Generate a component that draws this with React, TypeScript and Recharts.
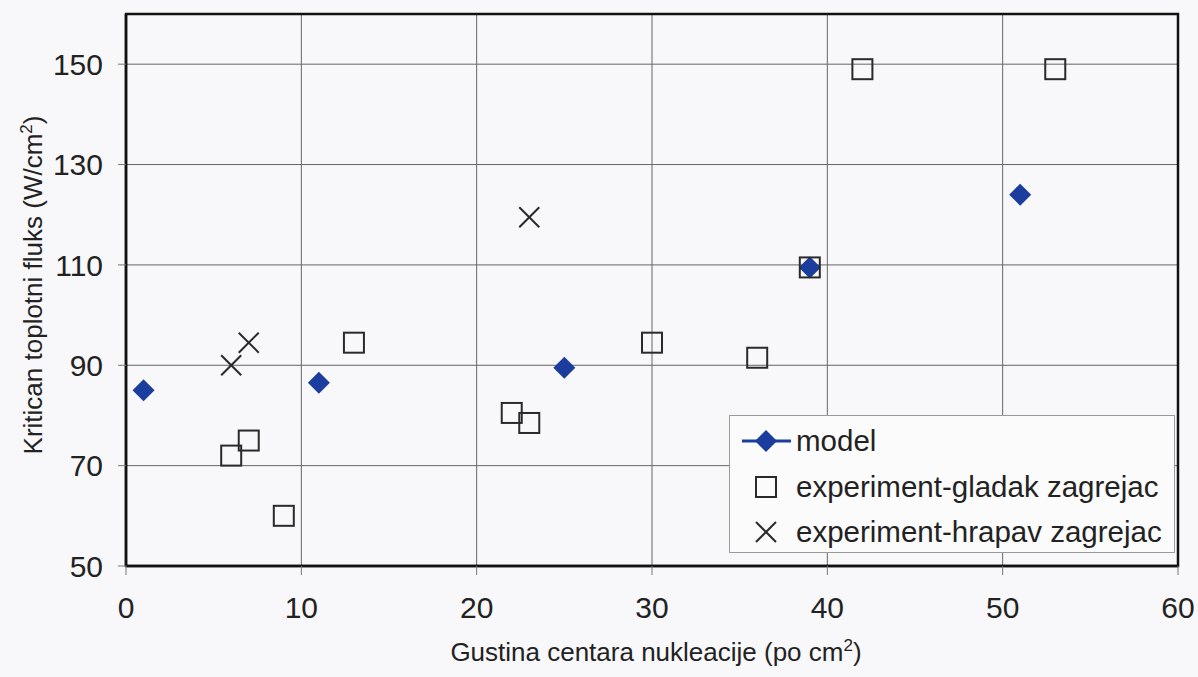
import React from 'react';
import { ScatterChart, Scatter, XAxis, YAxis, CartesianGrid, ReferenceArea } from 'recharts';

const modelX = [1, 11, 25, 39, 51];
const modelY = [85, 86.5, 89.5, 109.5, 124];
const smoothX = [6, 7, 9, 13, 22, 23, 30, 36, 39, 42, 53];
const smoothY = [72, 75, 60, 94.5, 80.5, 78.5, 94.5, 91.5, 109.5, 149, 149];
const roughX = [6, 7, 23];
const roughY = [90, 94.5, 119.5];
const xTicks = [0, 10, 20, 30, 40, 50, 60];
const yTicks = [50, 70, 90, 110, 130, 150];
const seriesNames = ['model', 'experiment-gladak zagrejac', 'experiment-hrapav zagrejac'];

const modelData = modelX.map((x, i) => ({ x, y: modelY[i] }));
const smoothData = smoothX.map((x, i) => ({ x, y: smoothY[i] }));
const roughData = roughX.map((x, i) => ({ x, y: roughY[i] }));

const BLUE = '#1b3d9e';
const INK = '#222';
const FONT = '"Liberation Sans", Arial, sans-serif';

const Diamond = (props: any) => {
  const { cx, cy } = props;
  if (cx == null || cy == null) return null;
  const r = 11;
  return <polygon points={`${cx},${cy - r} ${cx + r},${cy} ${cx},${cy + r} ${cx - r},${cy}`} fill={BLUE} />;
};
const Square = (props: any) => {
  const { cx, cy } = props;
  if (cx == null || cy == null) return null;
  const h = 10;
  return <rect x={cx - h} y={cy - h} width={2 * h} height={2 * h} fill="none" stroke="#2a2a2a" strokeWidth={2} />;
};
const Cross = (props: any) => {
  const { cx, cy } = props;
  if (cx == null || cy == null) return null;
  const h = 10;
  return (
    <g stroke="#2a2a2a" strokeWidth={2}>
      <line x1={cx - h} y1={cy - h} x2={cx + h} y2={cy + h} />
      <line x1={cx - h} y1={cy + h} x2={cx + h} y2={cy - h} />
    </g>
  );
};

const XTitle = (props: any) => {
  const vb = props.viewBox || {};
  const cx = vb.x + vb.width / 2 + 4;
  return (
    <text x={cx} y={661} textAnchor="middle" fontSize={26} fill={INK} fontFamily={FONT}>
      Gustina centara nukleacije (po cm<tspan dy={-10} fontSize={17}>2</tspan><tspan dy={10}>)</tspan>
    </text>
  );
};
const YTitle = (props: any) => {
  const vb = props.viewBox || {};
  const cy = vb.y + vb.height / 2 - 5;
  const x = 42;
  return (
    <text x={x} y={cy} textAnchor="middle" fontSize={26} fill={INK} fontFamily={FONT} transform={`rotate(-90 ${x} ${cy})`}>
      Kritican toplotni fluks (W/cm<tspan dy={-10} fontSize={17}>2</tspan><tspan dy={10}>)</tspan>
    </text>
  );
};

const LegendBox = () => {
  const rows = [25, 71, 116];
  return (
    <div style={{ position: 'absolute', left: 729, top: 415, width: 446, height: 138, background: '#fbfbfb', border: '1px solid #999', boxSizing: 'border-box' }}>
      <svg width={446} height={138} style={{ position: 'absolute', left: 0, top: 0 }}>
        <line x1={12} y1={rows[0]} x2={61} y2={rows[0]} stroke={BLUE} strokeWidth={3} />
        <Diamond cx={36} cy={rows[0]} />
        <Square cx={36} cy={rows[1]} />
        <Cross cx={36} cy={rows[2]} />
        {seriesNames.map((n, i) => (
          <text key={n} x={66} y={rows[i] + 10} fontSize={29.5} fill={INK} fontFamily={FONT}>{n}</text>
        ))}
      </svg>
    </div>
  );
};

export default function App() {
  return (
    <div style={{ position: 'absolute', left: 0, top: 0, width: 1198, height: 677, background: '#f8f8fa', fontFamily: FONT }}>
      <ScatterChart width={1198} height={677} margin={{ top: 14, right: 20, left: 0, bottom: 0 }}>
        <CartesianGrid stroke="#666" strokeWidth={1} />
        <XAxis
          type="number"
          dataKey="x"
          domain={[0, 60]}
          ticks={xTicks}
          height={111}
          tickSize={9}
          tickMargin={22}
          tick={{ fontSize: 30, fill: INK, fontFamily: FONT }}
          tickLine={{ stroke: '#777', strokeWidth: 1 }}
          axisLine={{ stroke: '#111', strokeWidth: 2.5 }}
          label={<XTitle />}
        />
        <YAxis
          type="number"
          dataKey="y"
          domain={[50, 160]}
          ticks={yTicks}
          width={126}
          tickSize={8}
          tickMargin={15}
          tick={{ fontSize: 30, fill: INK, fontFamily: FONT }}
          tickLine={{ stroke: '#777', strokeWidth: 1 }}
          axisLine={{ stroke: '#111', strokeWidth: 2.5 }}
          label={<YTitle />}
        />
        <ReferenceArea x1={0} x2={60} y1={50} y2={160} fill="none" stroke="#111" strokeWidth={2.5} ifOverflow="visible" />
        <Scatter name={seriesNames[0]} data={modelData} shape={<Diamond />} isAnimationActive={false} />
        <Scatter name={seriesNames[1]} data={smoothData} shape={<Square />} isAnimationActive={false} />
        <Scatter name={seriesNames[2]} data={roughData} shape={<Cross />} isAnimationActive={false} />
      </ScatterChart>
      <LegendBox />
    </div>
  );
}
